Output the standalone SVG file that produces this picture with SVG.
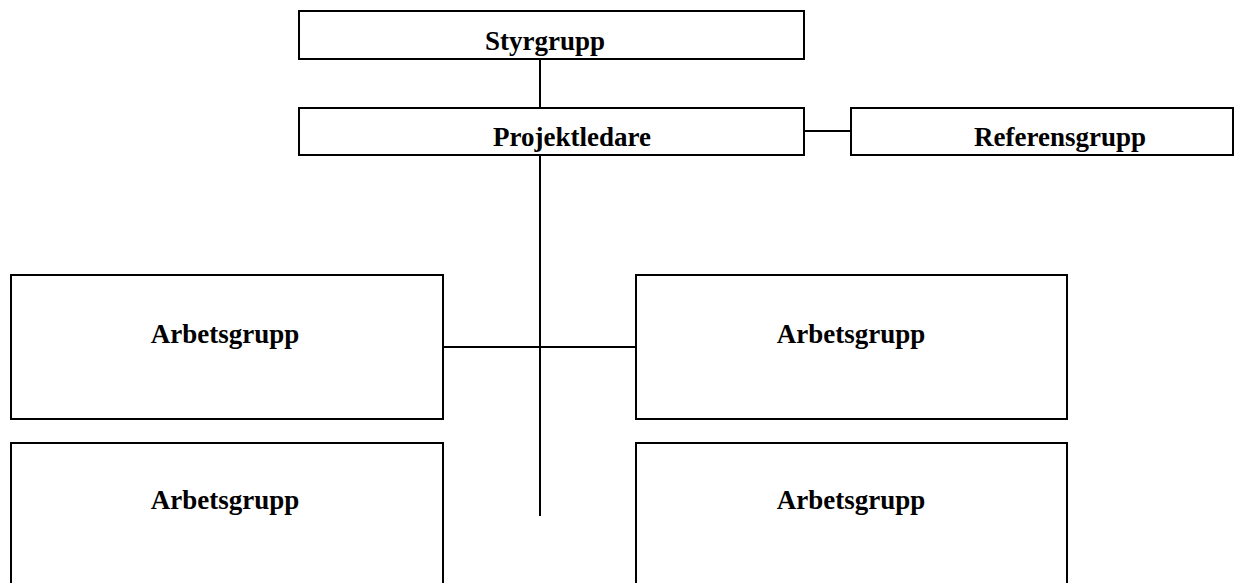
<svg xmlns="http://www.w3.org/2000/svg" width="1235" height="583" viewBox="0 0 1235 583">
<style>
.box{fill:#fff;stroke:#000;stroke-width:2}
.lbl{font-family:"Liberation Serif","Times New Roman",serif;font-weight:bold;font-size:27px;fill:#000;text-anchor:middle}
.conn{stroke:#000;stroke-width:2;fill:none}
</style>
<g id="connectors">
<line class="conn" x1="540" y1="60" x2="540" y2="108"/>
<line class="conn" x1="804" y1="131" x2="851" y2="131"/>
<line class="conn" x1="540" y1="155" x2="540" y2="516"/>
<line class="conn" x1="443" y1="347" x2="636" y2="347"/>
</g>
<g id="styrgrupp">
<rect class="box" x="299" y="11" width="505" height="48"/>
<text class="lbl" x="545" y="50">Styrgrupp</text>
</g>
<g id="projektledare">
<rect class="box" x="299" y="108" width="505" height="47"/>
<text class="lbl" x="572" y="146">Projektledare</text>
</g>
<g id="referensgrupp">
<rect class="box" x="851" y="108" width="382" height="47"/>
<text class="lbl" x="1060" y="146">Referensgrupp</text>
</g>
<g id="arbetsgrupp1">
<rect class="box" x="11" y="275" width="432" height="144"/>
<text class="lbl" x="225" y="343">Arbetsgrupp</text>
</g>
<g id="arbetsgrupp2">
<rect class="box" x="636" y="275" width="431" height="144"/>
<text class="lbl" x="851" y="343">Arbetsgrupp</text>
</g>
<g id="arbetsgrupp3">
<rect class="box" x="11" y="443" width="432" height="160"/>
<text class="lbl" x="225" y="509">Arbetsgrupp</text>
</g>
<g id="arbetsgrupp4">
<rect class="box" x="636" y="443" width="431" height="160"/>
<text class="lbl" x="851" y="509">Arbetsgrupp</text>
</g>
</svg>
